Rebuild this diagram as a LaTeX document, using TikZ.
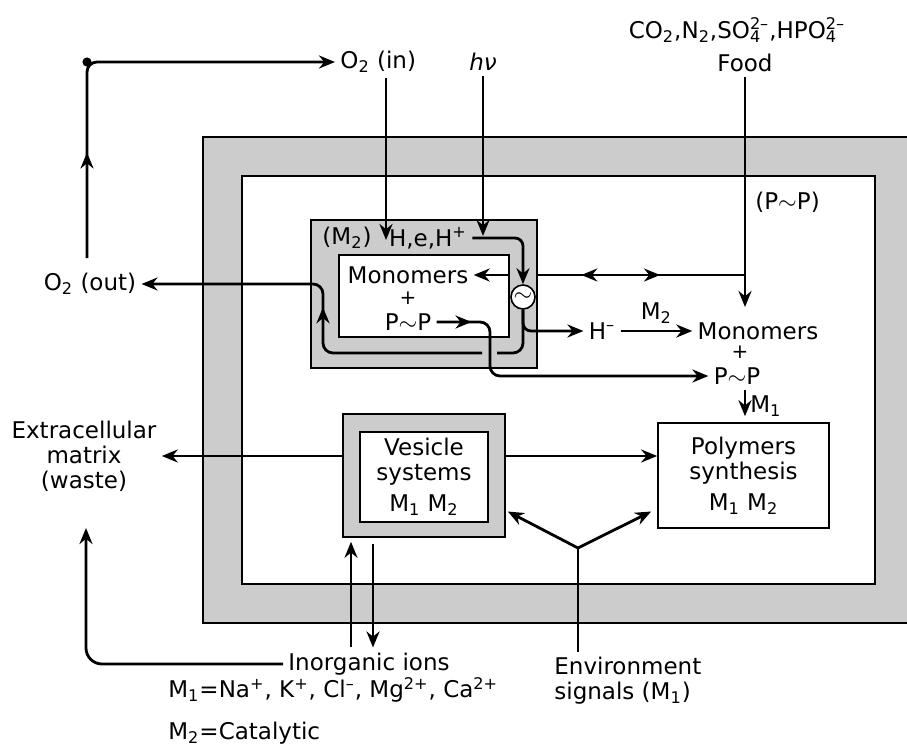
\documentclass[tikz,border=0pt]{standalone}
\usepackage{fontspec}
\setmainfont{DejaVu Sans}
\usetikzlibrary{positioning,arrows.meta,decorations.markings}

\begin{document}
\begin{tikzpicture}[x=0.5pt,y=-0.5pt,line width=1.4pt,
  every node/.style={font=\fontsize{11.5}{12.5}\selectfont,inner sep=2pt},
  flow/.style={-{Stealth[length=8pt,width=6.5pt]},rounded corners=4pt},
  midfwd/.style={postaction={decorate},decoration={markings,
    mark=at position #1 with {\arrow{Stealth[length=8pt,width=6.5pt]}}}},
  graybox/.style={draw,line width=0.8pt,fill=black!20},
  whitebox/.style={draw,line width=0.8pt,fill=white,align=center},
  plus/.style={font=\fontsize{10}{11}\selectfont,inner sep=0pt}]
\useasboundingbox (0,0) rectangle (907,745);

% cell membranes
\draw[graybox] (203,137) rectangle (920,623);
\draw[whitebox] (242,176) rectangle (875,584);

% M2 compartment
\node[graybox,minimum width=113pt,minimum height=74pt] (m2out) at (424,294) {};
\node[whitebox,minimum width=85pt,minimum height=41pt] (m2in) at (424,296) {};
\node (m2lab) at (347,238) {(M\textsubscript{2})};
\node (heh) at (428,238) {H,e,H\textsuperscript{+}};
\node (monoL) at (408,275) {Monomers};
\node[plus] (plusL) at (408,298) {+};
\node (ppL) at (408,322) {P$\sim$P};
\node[draw,circle,line width=0.8pt,fill=white,minimum size=12pt,inner sep=0pt] (circ) at (523,297) {$\sim$};

% vesicles and polymers
\node[graybox,minimum width=81pt,minimum height=61.5pt] (vesout) at (424,475.5) {};
\node[whitebox,minimum width=64pt,minimum height=45pt] (ves) at (424,477) {Vesicle\\systems\\[3pt]M\textsubscript{1} M\textsubscript{2}};
\node[whitebox,minimum width=85.5pt,minimum height=52.5pt] (poly) at (743.5,475.5) {Polymers\\synthesis\\[3pt]M\textsubscript{1} M\textsubscript{2}};

% labels
\node[anchor=west] (o2in) at (335,62) {O\textsubscript{2} (in)};
\node (hv) at (483,62) {\textit{hν}};
\node (gases) at (737,30) {CO\textsubscript{2},N\textsubscript{2},SO\rlap{\textsubscript{4}}\textsuperscript{2--},HPO\rlap{\textsubscript{4}}\textsuperscript{2--}};
\node (food) at (745,63) {Food};
\node[anchor=west] (ppfood) at (750,202) {(P$\sim$P)};
\node (o2out) at (90,284) {O\textsubscript{2} (out)};
\node[align=center] (extra) at (84,456) {Extracellular\\matrix\\(waste)};
\node (hminus) at (602,331) {H\textsuperscript{--}};
\node (monoR) at (758,331) {Monomers};
\node[plus] (plusR) at (740,352) {+};
\node (ppR) at (737,376) {P$\sim$P};
\node (ions) at (369,664) {Inorganic ions};
\node[anchor=west] (mdefa) at (163,690) {M\textsubscript{1}=Na\textsuperscript{+}, K\textsuperscript{+}, Cl\textsuperscript{--}, Mg\textsuperscript{2+}, Ca\textsuperscript{2+}};
\node[anchor=west] (mdefb) at (163,733) {M\textsubscript{2}=Catalytic};
\node[anchor=north west,align=left] (env) at (549,652) {Environment\\signals (M\textsubscript{1})};

\coordinate (o2foot) at (87,258);
\coordinate (o2tip) at (386,240);
\coordinate (hvtip) at (483,236);
\coordinate (foodtip) at (745,307);
\coordinate (gapR) at (497,353);
\coordinate (gapL) at (482,353);
\coordinate (bend) at (323,284);
\coordinate (dropx) at (490,0);
\coordinate (fork) at (578,548);
\coordinate (upx) at (351,0);
\coordinate (dnx) at (373,0);
\coordinate (wastetip) at (86,528);

% oxygen
\draw[flow,rounded corners=5pt,midfwd=0.24] (o2foot) |- (o2in.west);
\fill (o2foot |- o2in.west) circle (2.3pt);
\draw[flow] (o2in.south -| o2tip) -- (o2tip);
\draw[flow] (hv.south) -- (hvtip);
\draw[flow] (heh.east) -| (circ.north);

% food and energy
\draw[flow] (food.south) -- (foodtip);
\draw[postaction={decorate},decoration={markings,
    mark=at position 0.41 with {\arrowreversed{Stealth[length=8pt,width=6.5pt]}},
    mark=at position 0.79 with {\arrow{Stealth[length=8pt,width=6.5pt]}}}]
  (food.south |- monoL) -- (m2out.east |- monoL);
\draw[flow] (m2in.east |- monoL) -- (monoL.east);
\draw[flow] (circ.south) |- (hminus.west);
\draw[rounded corners=5pt] (circ.south) |- (gapR);
\draw[flow,rounded corners=5pt,midfwd=0.5] (gapL) -| (bend) -- (o2out.east);
\draw[flow,rounded corners=5pt,midfwd=0.11] (ppL.east) -- (ppL.east -| dropx) -- (dropx |- ppR.west) -- (ppR.west);
\draw[flow] (hminus.east) -- node[above=1pt] {M\textsubscript{2}} (hminus.east -| monoR.west);
\draw[flow,shorten >=3pt] (ppR.south -| foodtip) -- node[right] {M\textsubscript{1}} (foodtip |- poly.north);

% vesicles
\draw[flow] (vesout.west |- extra.east) -- (extra.east);
\draw[flow] (vesout.east |- extra.east) -- (poly.west |- extra.east);
\draw (fork |- env.north) -- (fork);
\draw[flow] (fork) -- ([xshift=1pt,yshift=-18pt]vesout.east);
\draw[flow] (fork) -- ([xshift=-3pt,yshift=-18pt]poly.west);
\draw[flow,shorten >=2pt] (upx |- ions.north) -- (upx |- vesout.south);
\draw[flow,shorten <=3pt] (dnx |- vesout.south) -- (dnx |- ions.north);
\draw[flow,rounded corners=8pt] (ions.west) -| (wastetip);
\end{tikzpicture}
\end{document}
